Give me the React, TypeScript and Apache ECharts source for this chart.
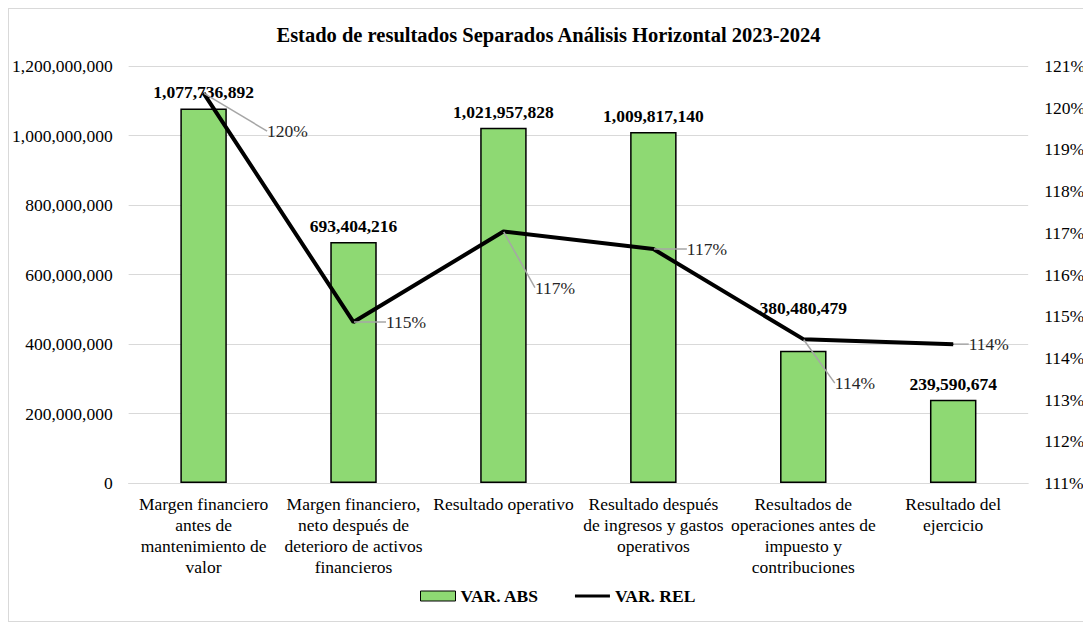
import React, { useEffect, useRef } from "react";
import * as echarts from "echarts";

const categories = [
  "Margen financiero\nantes de\nmantenimiento de\nvalor",
  "Margen financiero,\nneto después de\ndeterioro de activos\nfinancieros",
  "Resultado operativo",
  "Resultado después\nde ingresos y gastos\noperativos",
  "Resultados de\noperaciones antes de\nimpuesto y\ncontribuciones",
  "Resultado del\nejercicio",
];
const varAbs = [1077736892, 693404216, 1021957828, 1009817140, 380480479, 239590674];
const varRel = [120.35, 114.86, 117.03, 116.61, 114.45, 114.33];
const leftTicks = { min: 0, max: 1200000000, interval: 200000000 };
const rightTicks = { min: 111, max: 121, interval: 1 };

const relLabelOffsets = [
  [58, 38],
  [27, 0],
  [26, 56],
  [28, 0],
  [26, 44],
  [10, 0],
];

const FONT = "'Liberation Serif', 'Times New Roman', serif";
const FS = 17.5;

export default function App() {
  const ref = useRef<HTMLDivElement>(null);
  useEffect(() => {
    if (!ref.current) return;
    const chart = echarts.init(ref.current, null, { renderer: "svg" });
    chart.setOption({
      animation: false,
      textStyle: { fontFamily: FONT },
      title: {
        text: "Estado de resultados Separados Análisis Horizontal 2023-2024",
        left: "center",
        top: 10,
        textStyle: { fontFamily: FONT, fontSize: 20.5, fontWeight: "bold", color: "#000" },
      },
      legend: {
        bottom: 11,
        left: 406,
        itemGap: 36,
        itemWidth: 35,
        itemHeight: 10,
        textStyle: { fontFamily: FONT, fontSize: FS, fontWeight: "bold", color: "#000" },
        data: [
          { name: "VAR. ABS", icon: "rect", itemStyle: { color: "#8ED973", borderColor: "#000", borderWidth: 1 } },
          {
            name: "VAR. REL",
            icon: "path://M0,0 M0,10 M0,3.5 H35 V6.5 H0 Z",
            itemStyle: { color: "#000", borderWidth: 0 },
          },
        ],
      },
      grid: { left: 119, right: 58, top: 57, bottom: 138 },
      xAxis: {
        type: "category",
        data: categories,
        axisTick: { show: false },
        axisLine: { lineStyle: { color: "#d9d9d9", width: 1 } },
        axisLabel: {
          interval: 0,
          fontFamily: FONT,
          fontSize: FS,
          lineHeight: 21,
          color: "#000",
          margin: 10,
        },
      },
      yAxis: [
        {
          type: "value",
          min: leftTicks.min,
          max: leftTicks.max,
          interval: leftTicks.interval,
          axisLine: { show: false },
          axisTick: { show: false },
          splitLine: { lineStyle: { color: "#d9d9d9", width: 1 } },
          axisLabel: {
            fontFamily: FONT,
            fontSize: FS,
            color: "#000",
            margin: 16,
            formatter: (v: number) => v.toLocaleString("en-US"),
          },
        },
        {
          type: "value",
          min: rightTicks.min,
          max: rightTicks.max,
          interval: rightTicks.interval,
          axisLine: { show: false },
          axisTick: { show: false },
          splitLine: { show: false },
          axisLabel: {
            fontFamily: FONT,
            fontSize: FS,
            color: "#000",
            margin: 16,
            formatter: "{value}%",
          },
        },
      ],
      series: [
        {
          name: "VAR. ABS",
          type: "bar",
          data: varAbs,
          barWidth: "31%",
          itemStyle: { color: "#8ED973", borderColor: "#000", borderWidth: 1.5 },
          label: {
            show: true,
            position: "top",
            distance: 7,
            fontFamily: FONT,
            fontSize: FS,
            fontWeight: "bold",
            color: "#000",
            formatter: (p: any) => Number(p.value).toLocaleString("en-US"),
          },
          labelLayout: (p: any) => (p.dataIndex === 4 ? { dy: -27 } : {}),
        },
        {
          name: "VAR. REL",
          type: "line",
          yAxisIndex: 1,
          data: varRel,
          symbol: "circle",
          symbolSize: 1,
          showSymbol: true,
          itemStyle: { color: "#000" },
          lineStyle: { color: "#000", width: 4 },
          label: {
            show: true,
            position: "right",
            distance: 5,
            fontFamily: FONT,
            fontSize: FS,
            color: "#262626",
            formatter: (p: any) => Math.round(p.value) + "%",
          },
          labelLine: { show: true, lineStyle: { color: "#a6a6a6", width: 1.5 } },
          labelLayout: (p: any) => {
            const o = relLabelOffsets[p.dataIndex] || [0, 0];
            return { dx: o[0], dy: o[1] };
          },
        },
      ],
    });
    return () => chart.dispose();
  }, []);
  return (
    <div
      ref={ref}
      style={{ width: 1079, height: 612, border: "1px solid #d9d9d9", background: "#fff" }}
    />
  );
}
